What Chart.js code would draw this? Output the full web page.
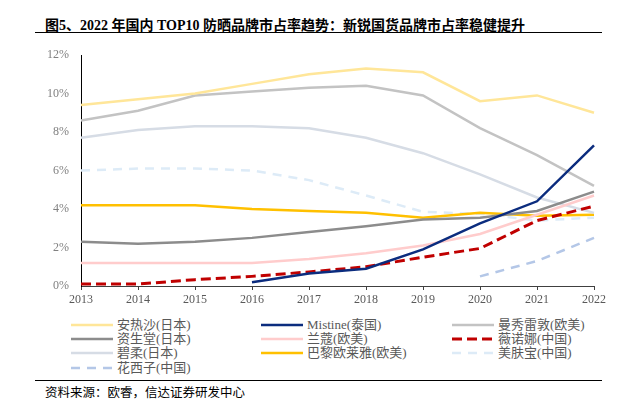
<!DOCTYPE html>
<html>
<head>
<meta charset="utf-8">
<script src="https://cdn.jsdelivr.net/npm/chart.js@4.4.0/dist/chart.umd.min.js"></script>
<style>
  body { margin: 0; background: #fff; width: 642px; height: 402px; overflow: hidden; position: relative;
         font-family: "Liberation Serif", "Noto Sans CJK SC", serif; }
  #title { position: absolute; left: 45px; top: 14px; font-size: 14px; font-weight: bold; color: #000; white-space: nowrap; }
  .rule { position: absolute; left: 35px; width: 567px; height: 0; border-top: 1.5px solid #000; }
  #box { position: absolute; left: 0; top: 0; width: 642px; height: 312px; }
  #legend { position: absolute; left: 0; top: 0; }
  .item { position: absolute; height: 14px; font-size: 13px; color: #595959; white-space: nowrap; line-height: 14px; }
  .item svg { position: absolute; left: 0; top: 4px; }
  .item span { position: absolute; left: 46px; top: 0; }
  #source { position: absolute; left: 45px; top: 382px; font-size: 12.5px; color: #000; white-space: nowrap; }
</style>
</head>
<body>
<div id="title">图5、2022 年国内 TOP10 防晒品牌市占率趋势：新锐国货品牌市占率稳健提升</div>
<div class="rule" style="top:32px"></div>
<div id="box"><canvas id="mycanvas"></canvas></div>
<div id="legend"></div>
<div class="rule" style="top:380px"></div>
<div id="source">资料来源：欧睿，信达证券研发中心</div>
<script>
// 市占率 (%), 2013-2022
var years = ['2013', '2014', '2015', '2016', '2017', '2018', '2019', '2020', '2021', '2022'];
var yTicks = [0, 2, 4, 6, 8, 10, 12];

var anthelios   = [9.4, 9.7, 10.0, 10.5, 11.0, 11.3, 11.1, 9.6, 9.9, 9.0];
var mistine     = [null, null, null, 0.2, 0.65, 0.9, 1.9, 3.25, 4.4, 7.3];
var mentholatum = [8.6, 9.1, 9.9, 10.1, 10.3, 10.4, 9.9, 8.2, 6.8, 5.2];
var shiseido    = [2.3, 2.2, 2.3, 2.5, 2.8, 3.1, 3.45, 3.55, 3.9, 4.9];
var lancome     = [1.2, 1.2, 1.2, 1.2, 1.4, 1.7, 2.1, 2.7, 3.7, 4.7];
var winona      = [0.1, 0.1, 0.33, 0.5, 0.73, 1.0, 1.5, 1.95, 3.4, 4.15];
var biore       = [7.7, 8.1, 8.3, 8.3, 8.2, 7.7, 6.9, 5.8, 4.6, 3.8];
var loreal      = [4.2, 4.2, 4.2, 4.0, 3.9, 3.8, 3.55, 3.8, 3.65, 3.7];
var meifubao    = [6.0, 6.1, 6.1, 6.0, 5.5, 4.7, 3.85, 3.75, 3.4, 3.55];
var florasis    = [null, null, null, null, null, null, null, 0.5, 1.3, 2.5];

function line(label, data, color, dash, width) {
    return {
        label: label,
        data: data,
        borderColor: color,
        backgroundColor: color,
        borderWidth: width || 2.5,
        borderDash: dash || [],
        pointRadius: 0,
        pointHoverRadius: 0,
        tension: 0,
        fill: false,
        spanGaps: false
    };
}

var datasets = [
    line('安热沙(日本)', anthelios, '#FFE699'),
    line('Mistine(泰国)', mistine, '#0B2C7E'),
    line('曼秀雷敦(欧美)', mentholatum, '#C3C3C3'),
    line('资生堂(日本)', shiseido, '#8C8C8C'),
    line('兰蔻(欧美)', lancome, '#FFCCCC'),
    line('薇诺娜(中国)', winona, '#C00000', [10, 5], 3),
    line('碧柔(日本)', biore, '#D6DCE5'),
    line('巴黎欧莱雅(欧美)', loreal, '#FFC000'),
    line('美肤宝(中国)', meifubao, '#DDEBF7', [9, 7]),
    line('花西子(中国)', florasis, '#B4C7E7', [9, 7])
];

var serif = '"Liberation Serif", "Noto Sans CJK SC", serif';

var ctx = document.getElementById('mycanvas');
var chart = new Chart(ctx, {
    type: 'line',
    data: { labels: years, datasets: datasets },
    options: {
        responsive: true,
        maintainAspectRatio: false,
        animation: false,
        layout: { padding: { top: 55, right: 48, left: 0, bottom: 0 } },
        plugins: { legend: { display: false }, tooltip: { enabled: false } },
        scales: {
            x: {
                offset: false,
                afterFit: function(scale) { scale.height = 26; },
                grid: { display: true, drawOnChartArea: false, drawTicks: true, tickLength: 4, color: '#404040' },
                border: { display: true, color: '#404040', width: 1 },
                ticks: { color: '#595959', font: { family: serif, size: 12 }, padding: 3, maxRotation: 0 }
            },
            y: {
                min: 0,
                max: 12,
                afterFit: function(scale) { scale.width = 81; },
                afterBuildTicks: function(scale) {
                    scale.ticks = yTicks.map(function(v) { return { value: v }; });
                },
                grid: { display: true, drawOnChartArea: false, drawTicks: false },
                border: { display: true, color: '#000', width: 1 },
                ticks: {
                    color: '#808080',
                    font: { family: serif, size: 12 },
                    padding: 12,
                    callback: function(v) { return v + '%'; }
                }
            }
        }
    }
});

// legend: 3 columns, row by row
var legend = document.getElementById('legend');
var colX = [71, 261, 452];
var rowY = [318, 332, 346, 361];
datasets.forEach(function(ds, i) {
    var item = document.createElement('div');
    item.className = 'item';
    item.style.left = colX[i % 3] + 'px';
    item.style.top = rowY[Math.floor(i / 3)] + 'px';
    var dash = ds.borderDash.length ? ' stroke-dasharray="' + ds.borderDash.join(',') + '"' : '';
    item.innerHTML = '<svg width="42" height="6"><line x1="0" y1="3" x2="42" y2="3" stroke="' + ds.borderColor +
        '" stroke-width="' + ds.borderWidth + '"' + dash + '/></svg><span>' + ds.label + '</span>';
    legend.appendChild(item);
});
</script>
</body>
</html>
